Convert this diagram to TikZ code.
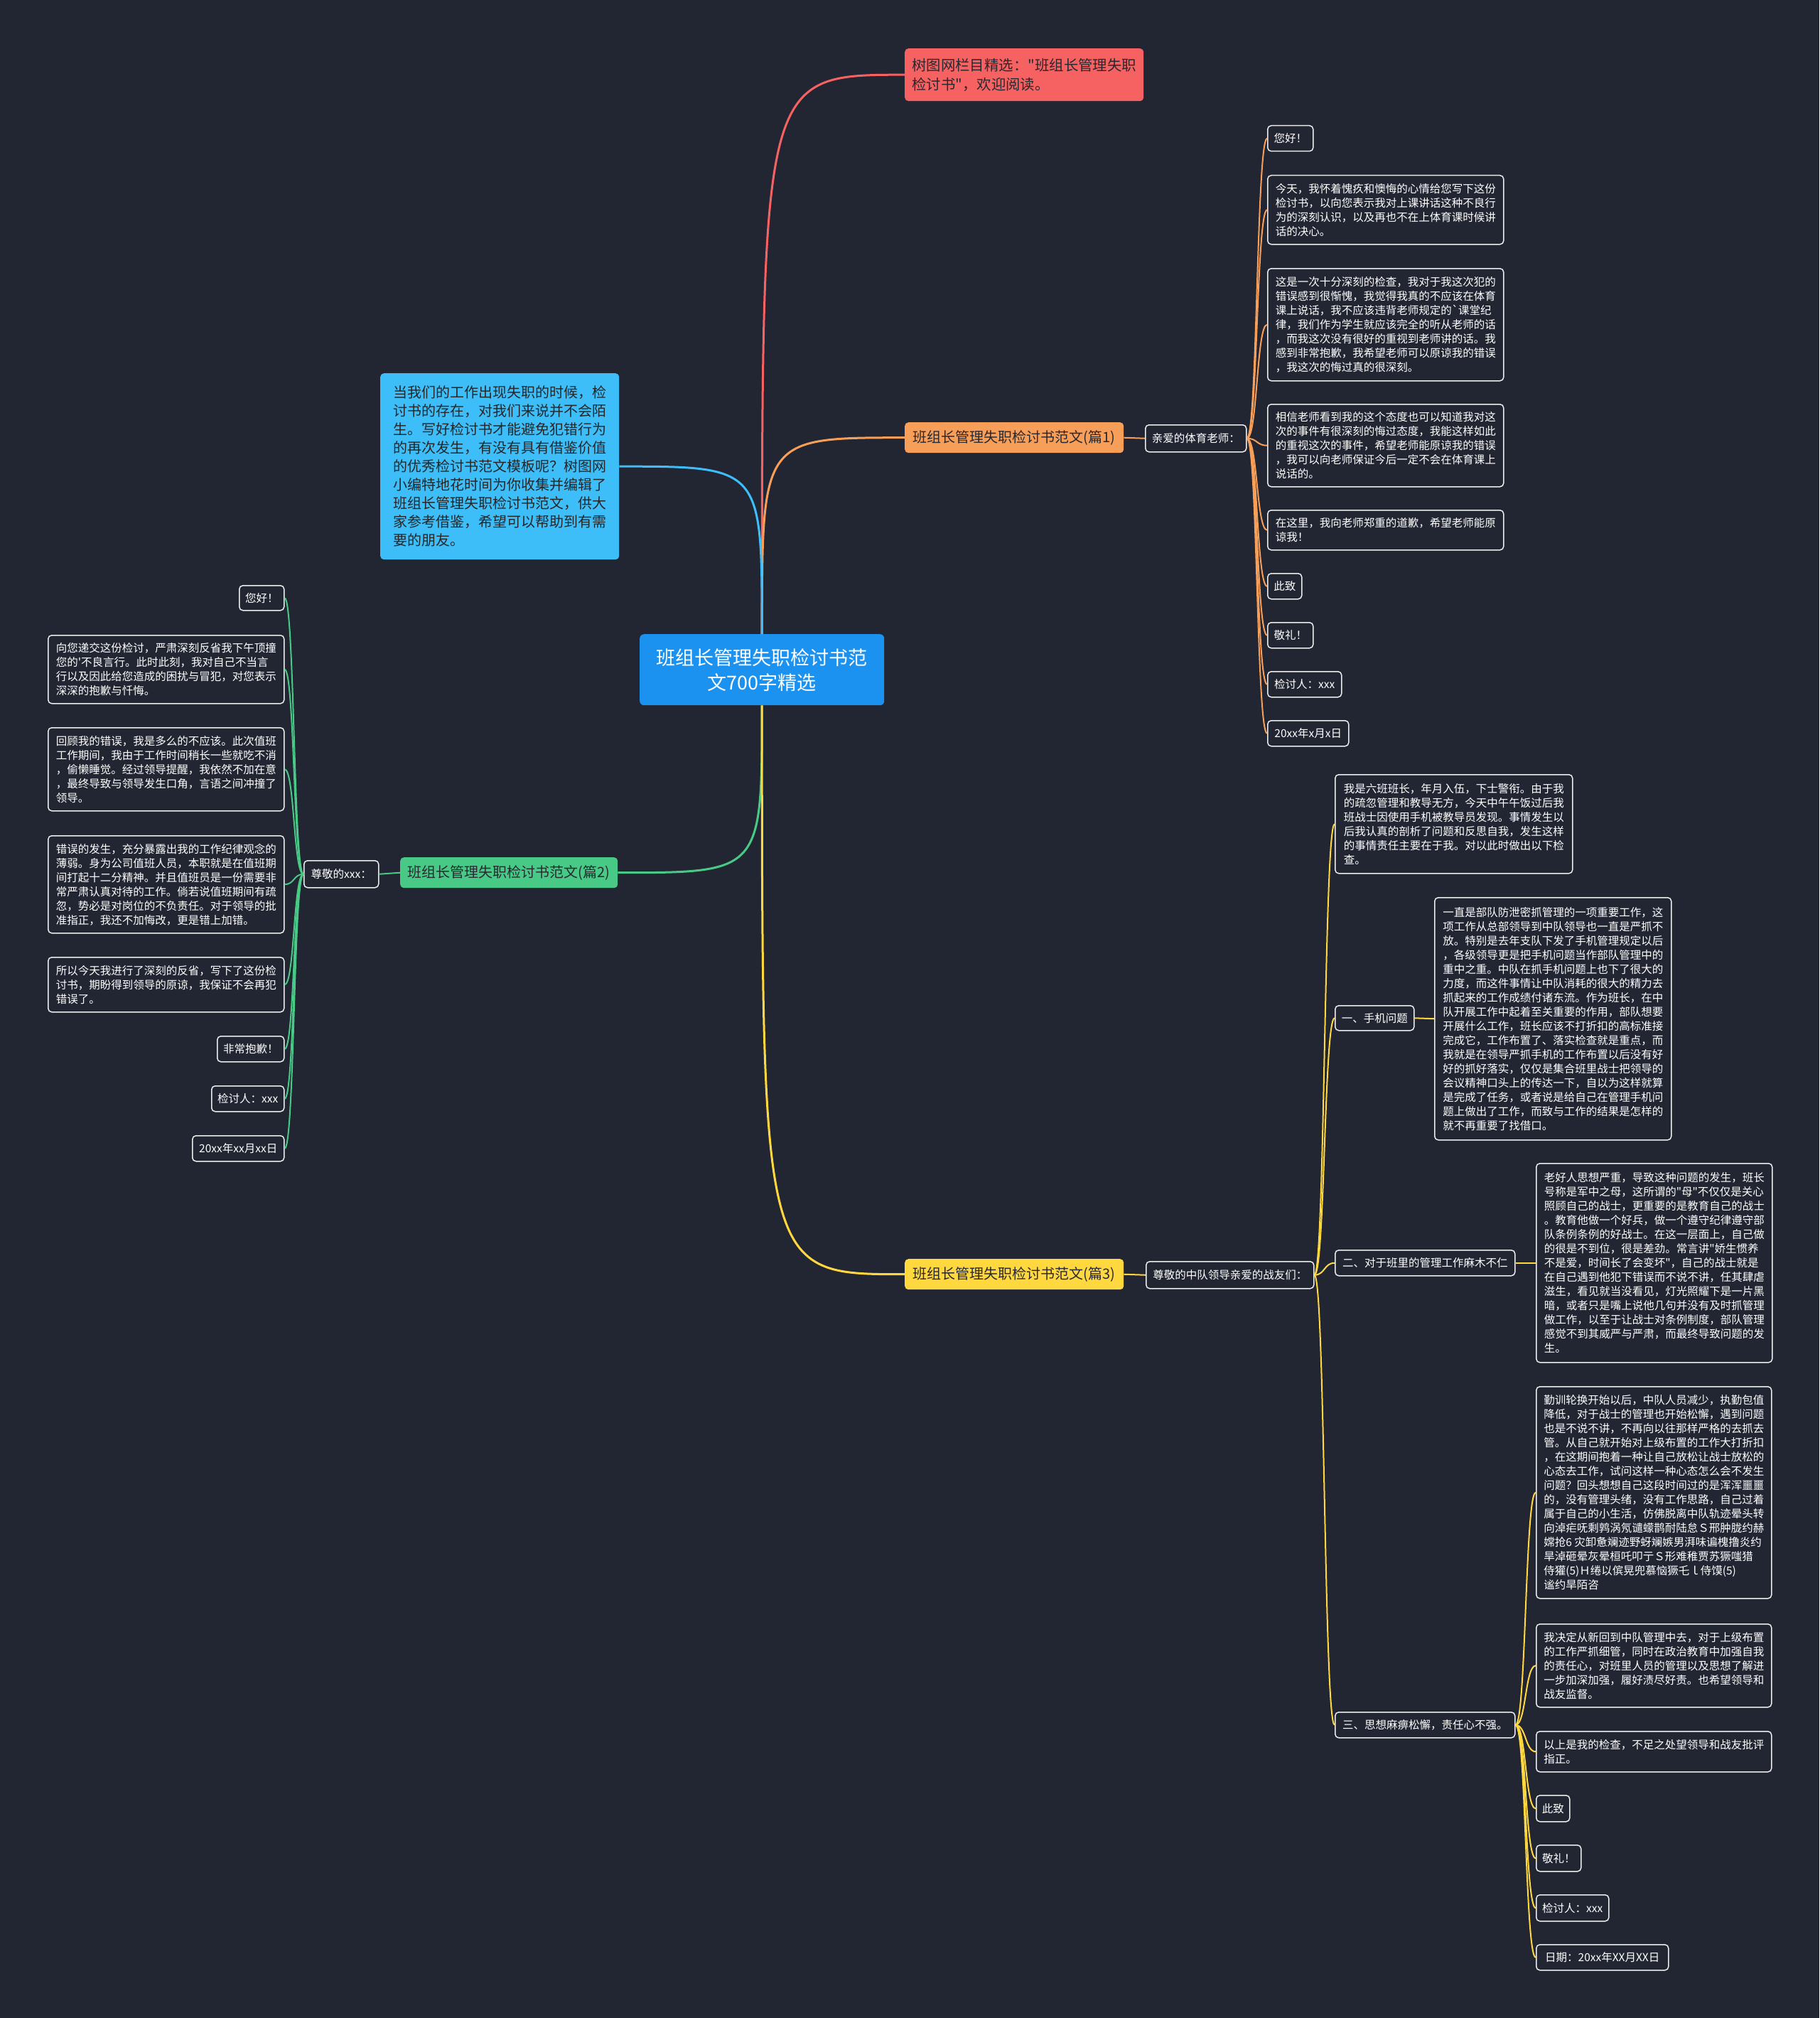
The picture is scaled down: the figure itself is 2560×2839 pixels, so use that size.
\documentclass[tikz,border=0pt]{standalone}
\usepackage{fontspec}
\newfontfamily\cjkf{Noto Sans CJK SC}
\usetikzlibrary{calc}
\definecolor{bgc}{RGB}{34,38,51}
\definecolor{cred}{RGB}{246,98,98}
\definecolor{corange}{RGB}{247,158,88}
\definecolor{cblue}{RGB}{62,190,248}
\definecolor{cgreen}{RGB}{72,201,133}
\definecolor{cyellow}{RGB}{255,216,64}
\definecolor{ccenter}{RGB}{28,146,240}
\definecolor{boxln}{RGB}{235,235,235}
\definecolor{darktxt}{RGB}{40,40,48}
\newcommand\fsm{\cjkf\fontsize{15.5}{20}\selectfont}
\newcommand\fmd{\cjkf\fontsize{20}{26}\selectfont}
\newcommand\fbg{\cjkf\fontsize{27}{35}\selectfont}
\newcommand\fredf{\cjkf\fontsize{20.4}{27}\selectfont}
\tikzset{
  leaf/.style={draw=boxln, line width=1.5pt, rounded corners=5pt, fill=bgc, text=white, align=left, inner xsep=8pt, inner ysep=0pt, anchor=north west, font=\fsm},
  topic/.style={rounded corners=5pt, align=left, inner xsep=10pt, inner ysep=0pt, anchor=north west, font=\fmd, text=darktxt},
  mainln/.style={line width=3pt},
  subln/.style={line width=2pt},
}
\newcommand\leafnode[6]{\node[leaf,minimum width=#4pt,minimum height=#5pt] (#1) at (#2,#3) {#6};}
\newcommand\slink[4]{\draw[#1] (#2) .. controls ($(#2)+(#4,0)$) and ($(#3)-(#4,0)$) .. (#3);}
\begin{document}
\begin{tikzpicture}[x=1pt,y=-1pt]
\path[use as bounding box, fill=bgc] (0,0) rectangle (2560,2839);

% center
\node[rounded corners=6pt, fill=ccenter, text=white, font=\fbg, align=center, minimum width=344pt, minimum height=100pt, anchor=north west, inner sep=0pt] (c) at (900,892) {班组长管理失职检讨书范\\文700字精选};

% red
\node[topic, fill=cred, font=\fredf, inner xsep=9pt, minimum width=336pt, minimum height=74pt] (nred) at (1273,68) {树图网栏目精选：\char"22班组长管理失职\\检讨书\char"22，欢迎阅读。};

% blue
\node[topic, fill=cblue, text=black!85, minimum width=336pt, minimum height=262pt] (nblue) at (535,525) {当我们的工作出现失职的时候，检\\讨书的存在，对我们来说并不会陌\\生。写好检讨书才能避免犯错行为\\的再次发生，有没有具有借鉴价值\\的优秀检讨书范文模板呢？树图网\\小编特地花时间为你收集并编辑了\\班组长管理失职检讨书范文，供大\\家参考借鉴，希望可以帮助到有需\\要的朋友。};

% branch labels
\node[topic, fill=corange, minimum width=308pt, minimum height=43pt] (p1) at (1273,594) {班组长管理失职检讨书范文(篇1)};
\node[topic, fill=cgreen, minimum width=306pt, minimum height=43pt] (p2) at (563,1206) {班组长管理失职检讨书范文(篇2)};
\node[topic, fill=cyellow, minimum width=308pt, minimum height=43pt] (p3) at (1273,1771) {班组长管理失职检讨书范文(篇3)};

\leafnode{p1a}{1611}{597}{142}{38}{亲爱的体育老师：}
\leafnode{p2a}{427}{1210}{105}{38}{尊敬的xxx：}
\leafnode{p3a}{1612}{1774}{236}{38}{尊敬的中队领导亲爱的战友们：}

% branch 1 leaves
\leafnode{o1}{1783}{176}{64}{36}{您好！}
\leafnode{o2}{1783}{246}{332}{97}{今天，我怀着愧疚和懊悔的心情给您写下这份\\检讨书，以向您表示我对上课讲话这种不良行\\为的深刻认识，以及再也不在上体育课时候讲\\话的决心。}
\leafnode{o3}{1783}{377}{332}{158}{这是一次十分深刻的检查，我对于我这次犯的\\错误感到很惭愧，我觉得我真的不应该在体育\\课上说话，我不应该违背老师规定的{\char"60}课堂纪\\律，我们作为学生就应该完全的听从老师的话\\，而我这次没有很好的重视到老师讲的话。我\\感到非常抱歉，我希望老师可以原谅我的错误\\，我这次的悔过真的很深刻。}
\leafnode{o4}{1783}{568}{332}{116}{相信老师看到我的这个态度也可以知道我对这\\次的事件有很深刻的悔过态度，我能这样如此\\的重视这次的事件，希望老师能原谅我的错误\\，我可以向老师保证今后一定不会在体育课上\\说话的。}
\leafnode{o5}{1783}{717}{332}{56}{在这里，我向老师郑重的道歉，希望老师能原\\谅我！}
\leafnode{o6}{1783}{806}{48}{36}{此致}
\leafnode{o7}{1783}{875}{64}{36}{敬礼！}
\leafnode{o8}{1783}{944}{104}{36}{检讨人：xxx}
\leafnode{o9}{1783}{1013}{114}{36}{20xx年x月x日}

% branch 2 leaves
\leafnode{g1}{336}{823}{63}{35}{您好！}
\leafnode{g2}{67}{893}{332}{96}{向您递交这份检讨，严肃深刻反省我下午顶撞\\您的{\char"27}不良言行。此时此刻，我对自己不当言\\行以及因此给您造成的困扰与冒犯，对您表示\\深深的抱歉与忏悔。}
\leafnode{g3}{67}{1023}{332}{117}{回顾我的错误，我是多么的不应该。此次值班\\工作期间，我由于工作时间稍长一些就吃不消\\，偷懒睡觉。经过领导提醒，我依然不加在意\\，最终导致与领导发生口角，言语之间冲撞了\\领导。}
\leafnode{g4}{67}{1175}{332}{137}{错误的发生，充分暴露出我的工作纪律观念的\\薄弱。身为公司值班人员，本职就是在值班期\\间打起十二分精神。并且值班员是一份需要非\\常严肃认真对待的工作。倘若说值班期间有疏\\忽，势必是对岗位的不负责任。对于领导的批\\准指正，我还不加悔改，更是错上加错。}
\leafnode{g5}{67}{1346}{332}{77}{所以今天我进行了深刻的反省，写下了这份检\\讨书，期盼得到领导的原谅，我保证不会再犯\\错误了。}
\leafnode{g6}{305}{1457}{94}{36}{非常抱歉！}
\leafnode{g7}{297}{1527}{102}{36}{检讨人：xxx}
\leafnode{g8}{270}{1597}{129}{36}{20xx年xx月xx日}

% branch 3 leaves
\leafnode{y1}{1878}{1089}{334}{139}{我是六班班长，年月入伍，下士警衔。由于我\\的疏忽管理和教导无方，今天中午午饭过后我\\班战士因使用手机被教导员发现。事情发生以\\后我认真的剖析了问题和反思自我，发生这样\\的事情责任主要在于我。对以此时做出以下检\\查。}
\leafnode{y2}{1878}{1414}{111}{35}{一、手机问题}
\leafnode{y2a}{2018}{1262}{333}{341}{一直是部队防泄密抓管理的一项重要工作，这\\项工作从总部领导到中队领导也一直是严抓不\\放。特别是去年支队下发了手机管理规定以后\\，各级领导更是把手机问题当作部队管理中的\\重中之重。中队在抓手机问题上也下了很大的\\力度，而这件事情让中队消耗的很大的精力去\\抓起来的工作成绩付诸东流。作为班长，在中\\队开展工作中起着至关重要的作用，部队想要\\开展什么工作，班长应该不打折扣的高标准接\\完成它，工作布置了、落实检查就是重点，而\\我就是在领导严抓手机的工作布置以后没有好\\好的抓好落实，仅仅是集合班里战士把领导的\\会议精神口头上的传达一下，自以为这样就算\\是完成了任务，或者说是给自己在管理手机问\\题上做出了工作，而致与工作的结果是怎样的\\就不再重要了找借口。}
\leafnode{y3}{1878}{1758}{253}{36}{二、对于班里的管理工作麻木不仁}
\leafnode{y3a}{2161}{1636}{332}{280}{老好人思想严重，导致这种问题的发生，班长\\号称是军中之母，这所谓的\char"22母\char"22不仅仅是关心\\照顾自己的战士，更重要的是教育自己的战士\\。教育他做一个好兵，做一个遵守纪律遵守部\\队条例条例的好战士。在这一层面上，自己做\\的很是不到位，很是差劲。常言讲\char"22娇生惯养\\不是爱，时间长了会变坏\char"22，自己的战士就是\\在自己遇到他犯下错误而不说不讲，任其肆虐\\滋生，看见就当没看见，灯光照耀下是一片黑\\暗，或者只是嘴上说他几句并没有及时抓管理\\做工作，以至于让战士对条例制度，部队管理\\感觉不到其威严与严肃，而最终导致问题的发\\生。}
\leafnode{y4}{1878}{2408}{253}{36}{三、思想麻痹松懈，责任心不强。}
\leafnode{y4a}{2161}{1950}{331}{298}{勤训轮换开始以后，中队人员减少，执勤包值\\降低，对于战士的管理也开始松懈，遇到问题\\也是不说不讲，不再向以往那样严格的去抓去\\管。从自己就开始对上级布置的工作大打折扣\\，在这期间抱着一种让自己放松让战士放松的\\心态去工作，试问这样一种心态怎么会不发生\\问题？回头想想自己这段时间过的是浑浑噩噩\\的，没有管理头绪，没有工作思路，自己过着\\属于自己的小生活，仿佛脱离中队轨迹晕头转\\向淖疟呒剩鹑涡氖谴蠓鹊耐陆怠Ｓ邢肿胧约赫\\嫦抢6 灾卸惫斓迹野蚜斓嫉男湃味谝槐撸炎约\\旱淖砸晕灰晕桓吒叩亍Ｓ形难稚贾苏獗嗤猎\\侍獾(5)Ｈ绻以傧晃兜慕恼獗乇ｌ侍馍(5)\\谧约旱陌咨}
\leafnode{y4b}{2161}{2284}{331}{117}{我决定从新回到中队管理中去，对于上级布置\\的工作严抓细管，同时在政治教育中加强自我\\的责任心，对班里人员的管理以及思想了解进\\一步加深加强，履好渍尽好责。也希望领导和\\战友监督。}
\leafnode{y4c}{2161}{2435}{331}{57}{以上是我的检查，不足之处望领导和战友批评\\指正。}
\leafnode{y4d}{2161}{2525}{47}{37}{此致}
\leafnode{y4e}{2161}{2595}{63}{37}{敬礼！}
\leafnode{y4f}{2161}{2665}{102}{37}{检讨人：xxx}
\leafnode{y4g}{2161}{2735}{186}{36}{日期：20xx年XX月XX日}

% main connectors
\draw[mainln, cred] (c.north) .. controls (c.north |- nred.west) .. (nred.west);
\draw[mainln, corange] (c.north) .. controls (c.north |- p1.west) .. (p1.west);
\draw[mainln, cblue] (c.north) .. controls (c.north |- nblue.east) .. (nblue.east);
\draw[mainln, cgreen] (c.south) .. controls (c.south |- p2.east) .. (p2.east);
\draw[mainln, cyellow] (c.south) .. controls (c.south |- p3.west) .. (p3.west);

% second level
\draw[subln, corange] (p1.east) -- (p1a.west);
\draw[subln, cgreen] (p2.west) -- (p2a.east);
\draw[subln, cyellow] (p3.east) -- (p3a.west);

\foreach \n in {o1,o2,o3,o4,o5,o6,o7,o8,o9}{\slink{subln,corange}{p1a.east}{\n.west}{15}}
\foreach \n in {g1,g2,g3,g4,g5,g6,g7,g8}{\slink{subln,cgreen}{p2a.west}{\n.east}{-14}}
\foreach \n in {y1,y2,y3,y4}{\slink{subln,cyellow}{p3a.east}{\n.west}{15}}
\slink{subln,cyellow}{y2.east}{y2a.west}{14}
\slink{subln,cyellow}{y3.east}{y3a.west}{15}
\foreach \n in {y4a,y4b,y4c,y4d,y4e,y4f,y4g}{\slink{subln,cyellow}{y4.east}{\n.west}{15}}
\end{tikzpicture}
\end{document}
